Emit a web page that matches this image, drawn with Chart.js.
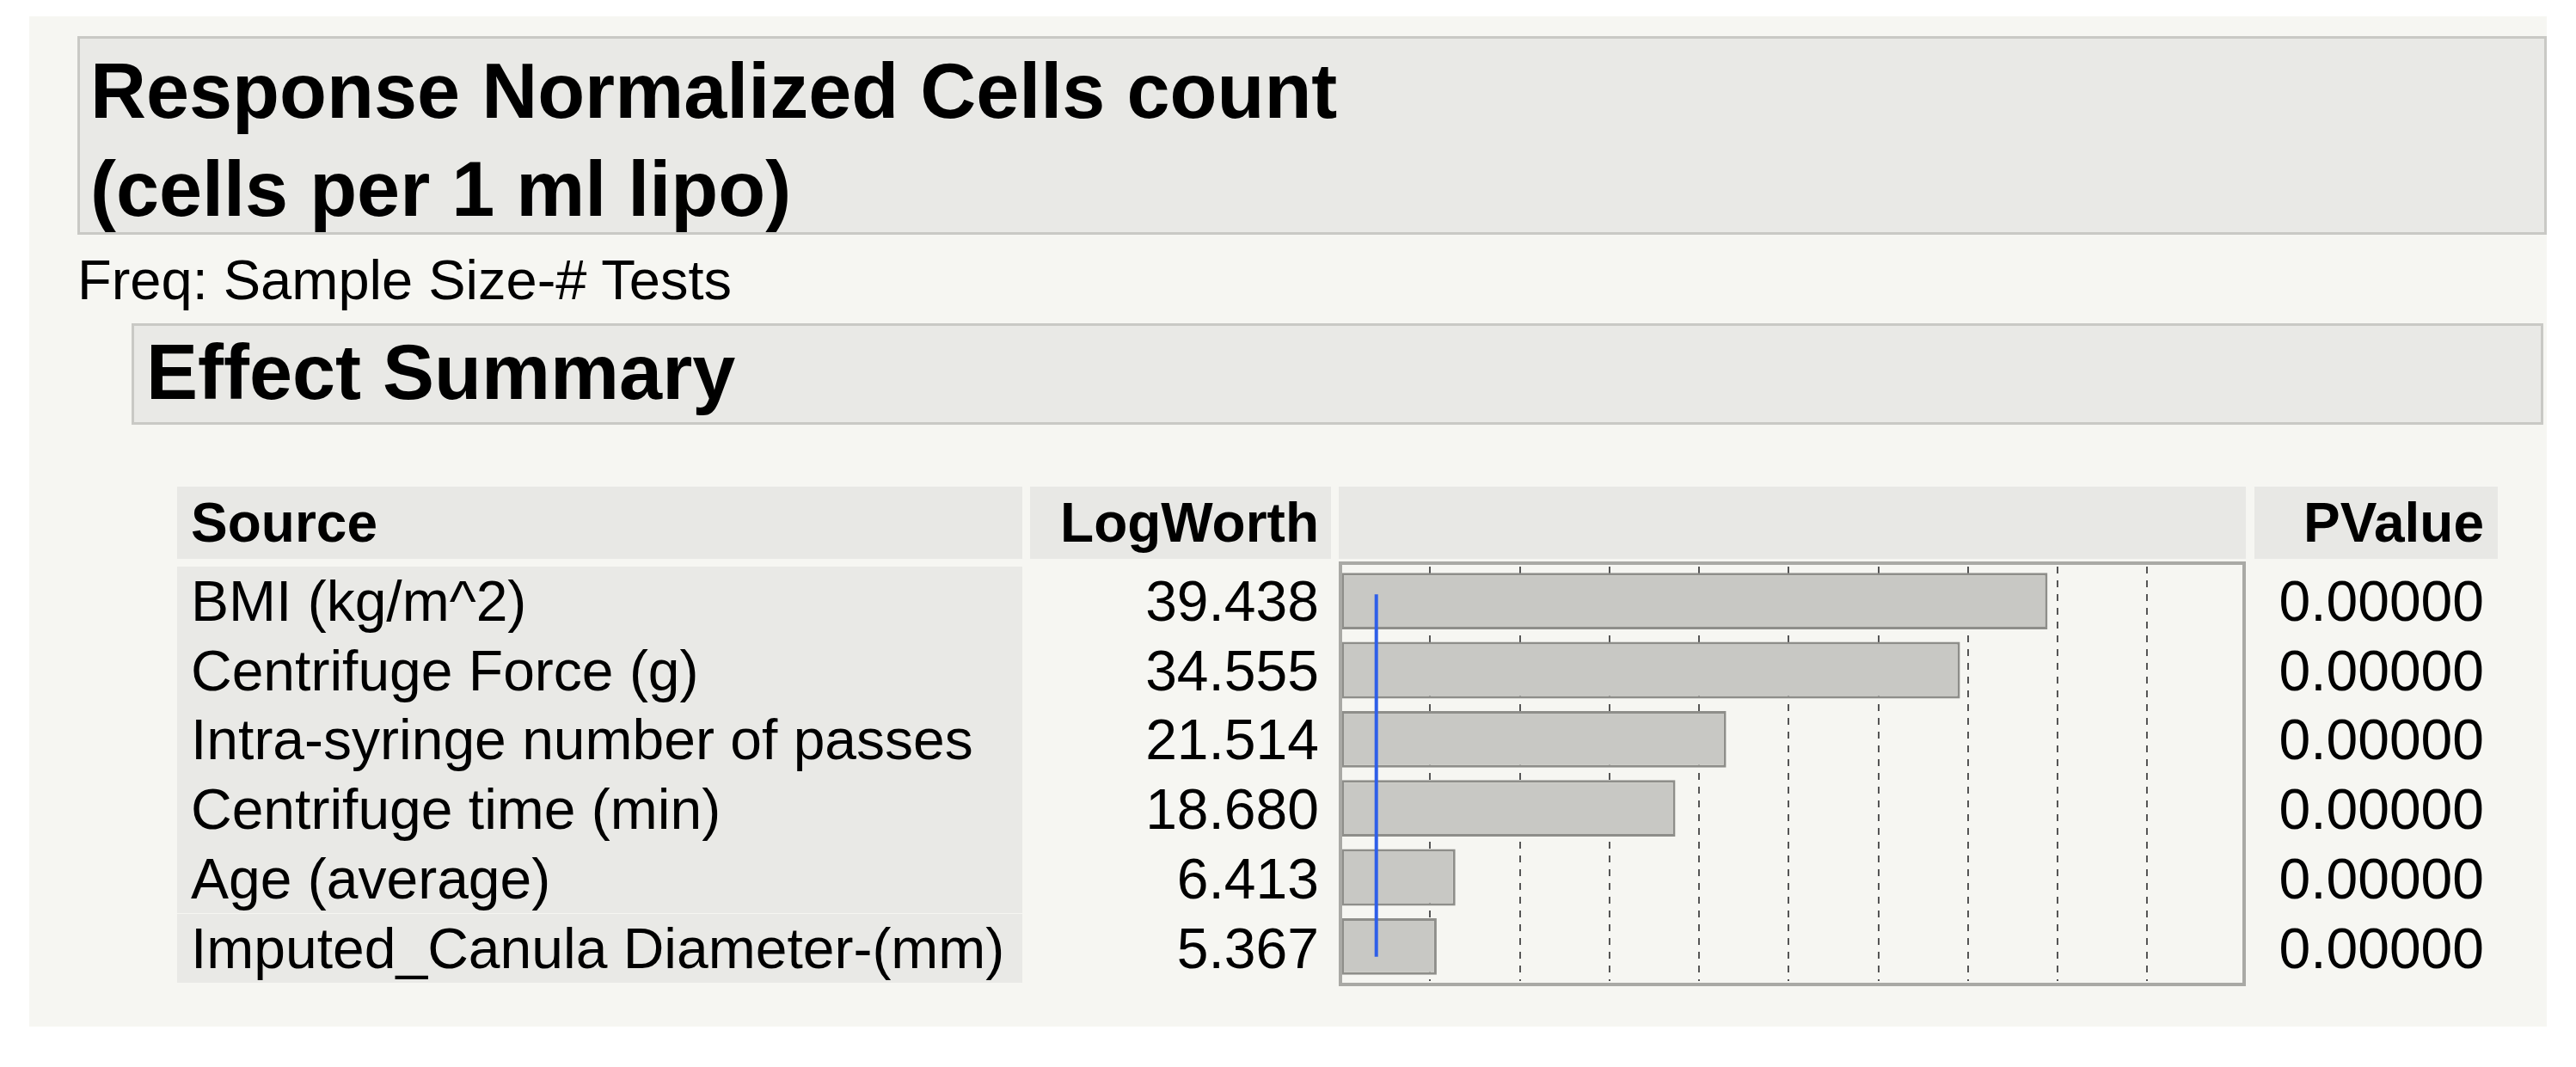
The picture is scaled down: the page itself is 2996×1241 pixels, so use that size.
<!DOCTYPE html>
<html><head><meta charset="utf-8">
<script src="https://cdn.jsdelivr.net/npm/chart.js@4"></script>
<style>
body{margin:0;width:2996px;height:1241px;background:#fff;font-family:"Liberation Sans",Arial,sans-serif;position:relative;overflow:hidden}
.abs{position:absolute}
#panel{left:34px;top:19px;width:2928px;height:1175px;background:#f6f6f2}
.box{background:#e9e9e6;border:3px solid #c9c9c5;box-sizing:border-box}
#title{left:90px;top:42px;width:2872px;height:231px;font-weight:bold;font-size:90px;line-height:114px;padding:4px 0 0 12px}
#freq{left:90px;top:288px;font-size:65px}
#eff{left:153px;top:376px;width:2805px;height:118px;font-weight:bold;font-size:90px;line-height:108px;padding-left:14px}
.hdr{top:566px;height:84px;background:#e8e8e5;font-weight:bold;font-size:64px;line-height:84px;box-sizing:border-box;white-space:nowrap}
.cell{font-size:66px;line-height:80.7px;height:80.7px;white-space:nowrap;box-sizing:border-box}
#chart{left:1557px;top:653px}
</style></head><body>
<div id="panel" class="abs"></div>
<div id="title" class="abs box">Response Normalized Cells count<br>(cells per 1 ml lipo)</div>
<div id="freq" class="abs">Freq: Sample Size-# Tests</div>
<div id="eff" class="abs box">Effect Summary</div>
<div class="abs hdr" style="left:206px;width:983px;padding-left:16px">Source</div>
<div class="abs hdr" style="left:1198px;width:350px;text-align:right;padding-right:14px">LogWorth</div>
<div class="abs hdr" style="left:1557px;width:1055px"></div>
<div class="abs hdr" style="left:2622px;width:283px;text-align:right;padding-right:16px">PValue</div>
<div id="rows"></div>
<canvas id="chart" class="abs" width="1055" height="494"></canvas>
<script>
const sources=["BMI (kg/m^2)","Centrifuge Force (g)","Intra-syringe number of passes","Centrifuge time (min)","Age (average)","Imputed_Canula Diameter-(mm)"];
const logWorth=[39.438,34.555,21.514,18.680,6.413,5.367];
const pValues=["0.00000","0.00000","0.00000","0.00000","0.00000","0.00000"];
const xMax=50.4, tickStep=5, refLine=2;

const rows=document.getElementById('rows');
const rowTop=659, rowH=80.7;
sources.forEach((s,i)=>{
  const t=rowTop+i*rowH;
  rows.insertAdjacentHTML('beforeend',
   `<div class="abs cell" style="left:206px;top:${t}px;width:983px;background:#e9e9e6;padding-left:16px">${s}</div>`+
   `<div class="abs cell" style="left:1198px;top:${t}px;width:350px;text-align:right;padding-right:14px">${logWorth[i].toFixed(3)}</div>`+
   `<div class="abs cell" style="left:2622px;top:${t}px;width:283px;text-align:right;padding-right:16px">${pValues[i]}</div>`);
});

const frame={id:'frame',afterDatasetsDraw(c){
  const {ctx,scales:{x,y}}=c;
  ctx.save();
  ctx.strokeStyle='#2f5fe8';ctx.lineWidth=4;
  const xp=x.getPixelForValue(refLine);
  ctx.beginPath();ctx.moveTo(xp,y.getPixelForValue(0)-8);ctx.lineTo(xp,y.getPixelForValue(sources.length-1)+12);ctx.stroke();
  ctx.strokeStyle='#a9a9a5';ctx.lineWidth=4;
  ctx.strokeRect(2,2,c.width-4,c.height-4);
  ctx.restore();
}};
new Chart(document.getElementById('chart'),{
  type:'bar',
  data:{labels:sources,datasets:[{data:logWorth,backgroundColor:'#c8c8c4',borderColor:'#8e8e8a',borderWidth:3,borderSkipped:false,categoryPercentage:1,barPercentage:0.82}]},
  options:{responsive:false,devicePixelRatio:1,animation:false,indexAxis:'y',
    layout:{padding:{left:2,right:2,top:6,bottom:6}},
    plugins:{legend:{display:false},tooltip:{enabled:false}},
    scales:{
      x:{min:0,max:xMax,ticks:{display:false,stepSize:tickStep},border:{display:false,dash:[8,8]},grid:{color:'#555',lineWidth:2,drawTicks:false}},
      y:{display:false}
    }},
  plugins:[frame]
});
</script>
</body></html>
